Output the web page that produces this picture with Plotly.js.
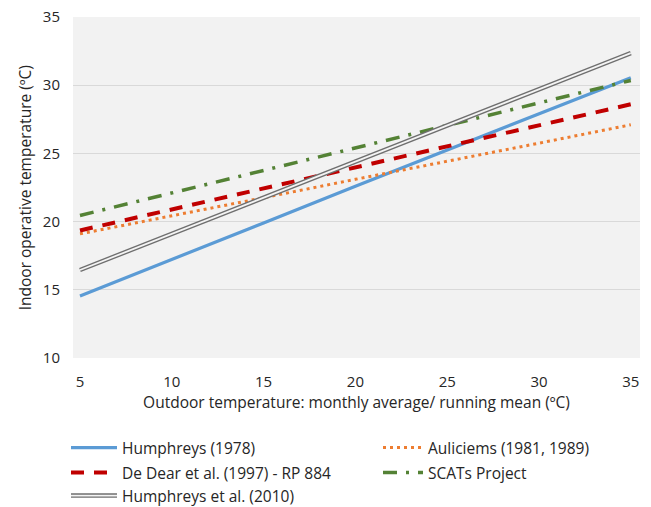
<!DOCTYPE html>
<html>
<head>
<meta charset="utf-8">
<script src="https://cdn.plot.ly/plotly-3.0.1.min.js"></script>
<style>html,body{margin:0;padding:0;background:#fff;}#chart{width:651px;height:507px;}</style>
</head>
<body>
<div id="chart"></div>
<script>
// Data
const outdoorTemp = [5, 10, 15, 20, 25, 30, 35];
const humphreys1978 = [14.55, 17.2, 19.9, 22.6, 25.25, 27.9, 30.55];
const auliciems = [19.1, 20.4, 21.75, 23.1, 24.4, 25.75, 27.1];
const deDear = [19.35, 20.9, 22.45, 24.0, 25.5, 27.05, 28.6];
const scats = [20.45, 22.1, 23.75, 25.4, 27.05, 28.7, 30.35];
const humphreys2010 = [16.45, 19.1, 21.75, 24.4, 27.05, 29.7, 32.35];
const names = ["Humphreys (1978)", "Auliciems (1981, 1989)", "De Dear et al. (1997) - RP 884", "SCATs Project", "Humphreys et al. (2010)"];
const xTicks = [5, 10, 15, 20, 25, 30, 35];
const yTicks = [10, 15, 20, 25, 30, 35];
const xTitle = "Outdoor temperature: monthly average/ running mean (ºC)";
const yTitle = "Indoor operative temperature (ºC)";

const FONT = "Open Sans, Lato, sans-serif";
const traces = [
  {x: outdoorTemp, y: humphreys1978, name: names[0], mode: "lines", legend: "legend",
   line: {color: "#5b9bd5", width: 3.2}},
  {x: outdoorTemp, y: auliciems, name: names[1], mode: "lines", legend: "legend2",
   line: {color: "#ed7d31", width: 3, dash: "3px,4px"}},
  {x: outdoorTemp, y: deDear, name: names[2], mode: "lines", legend: "legend3",
   line: {color: "#c00000", width: 4, dash: "13px,10px"}},
  {x: outdoorTemp, y: scats, name: names[3], mode: "lines", legend: "legend4",
   line: {color: "#548235", width: 3.5, dash: "14px,9px,3px,9px"}},
  {x: outdoorTemp, y: humphreys2010, name: names[4], mode: "lines", legend: "legend5",
   line: {color: "#6f6f6f", width: 4.5}},
  {x: outdoorTemp, y: humphreys2010, name: "", mode: "lines", legend: "legend6",
   line: {color: "#f4f4f4", width: 1.8}, hoverinfo: "skip"}
];

const rowY = [448, 473, 496];
const colX = [66, 378];
function leg(cx, ry, w) {
  return {xref: "container", yref: "container", x: cx / 651, y: (507 - ry) / 507,
    xanchor: "left", yanchor: "middle", bgcolor: "rgba(0,0,0,0)", itemwidth: w,
    font: {family: FONT, size: 15.5, color: "#262626"}};
}

const layout = {
  width: 651, height: 507,
  margin: {l: 73, r: 11, t: 17, b: 149, autoexpand: false},
  paper_bgcolor: "#ffffff",
  plot_bgcolor: "#f2f2f2",
  showlegend: true,
  font: {family: FONT, color: "#262626"},
  xaxis: {
    range: [4.62, 35.5], tickvals: xTicks, ticktext: xTicks.map(String), tickangle: 0,
    showgrid: false, zeroline: false, showline: false, ticks: "", automargin: true,
    tickfont: {family: FONT, size: 15, color: "#262626"}, ticklabelstandoff: 13,
    title: {text: xTitle, font: {family: FONT, size: 15.5, color: "#262626"}, standoff: 7}
  },
  yaxis: {
    range: [10, 35], tickvals: yTicks, ticktext: yTicks.map(String),
    showgrid: true, gridcolor: "#d9d9d9", gridwidth: 1, zeroline: false, showline: false, ticks: "", automargin: true,
    tickfont: {family: FONT, size: 15, color: "#262626"}, ticklabelstandoff: 12
  },
  annotations: [{
    text: yTitle, xref: "paper", yref: "paper", x: -0.085, y: 0.5,
    xanchor: "center", yanchor: "middle", textangle: -90, showarrow: false,
    font: {family: FONT, size: 15.5, color: "#262626"}
  }],
  legend: leg(colX[0], rowY[0], 46),
  legend2: leg(colX[1], rowY[0], 40),
  legend3: leg(colX[0], rowY[1], 46),
  legend4: leg(colX[1], rowY[1], 40),
  legend5: leg(colX[0], rowY[2], 46),
  legend6: leg(colX[0], rowY[2], 46)
};

Plotly.newPlot("chart", traces, layout, {displayModeBar: false, staticPlot: true});
</script>
</body>
</html>
